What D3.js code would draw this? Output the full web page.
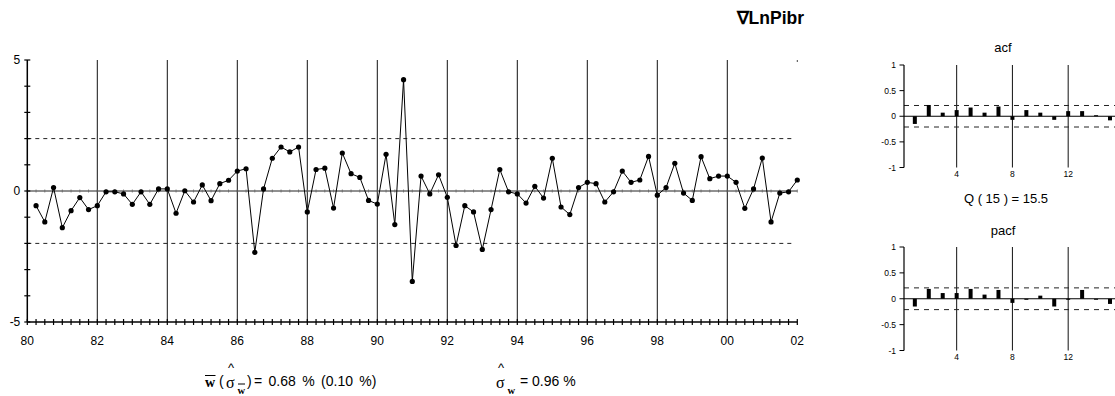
<!DOCTYPE html>
<meta charset="utf-8" />
<script src="https://d3js.org/d3.v7.min.js"></script>
<body style="margin:0;background:#fff">
  <div id="chart"></div>
  <script>
    // quarterly growth of LnPibr (%), first obs 1980Q2
    const firstQuarter = 80.25;
    const growth = [
      -0.56, -1.18, 0.13, -1.40, -0.75, -0.25, -0.71, -0.56,
      -0.03, -0.03, -0.11, -0.51, -0.03, -0.51, 0.08, 0.08,
      -0.85, 0.01, -0.42, 0.23, -0.37, 0.28, 0.41, 0.76,
      0.85, -2.34, 0.08, 1.25, 1.68, 1.49, 1.68, -0.80,
      0.82, 0.87, -0.65, 1.45, 0.66, 0.52, -0.36, -0.50,
      1.40, -1.28, 4.25, -3.45, 0.57, -0.11, 0.62, -0.24,
      -2.08, -0.56, -0.80, -2.23, -0.71, 0.82, -0.03, -0.11,
      -0.46, 0.18, -0.27, 1.25, -0.61, -0.90, 0.13, 0.33,
      0.28, -0.42, -0.03, 0.76, 0.33, 0.42, 1.32, -0.16,
      0.13, 1.06, -0.08, -0.36, 1.31, 0.47, 0.57, 0.57,
      0.33, -0.66, 0.08, 1.26, -1.18, -0.08, -0.03, 0.42
    ];
    const yearTicks = [80, 82, 84, 86, 88, 90, 92, 94, 96, 98, 100, 102];
    const yearLabels = ["80", "82", "84", "86", "88", "90", "92", "94", "96", "98", "00", "02"];
    const yLabels = [5, 0, -5];
    const band = 2; // dashed lines at +/- 2

    const lags = d3.range(1, 16);
    const acf = [-0.15, 0.22, 0.07, 0.12, 0.17, 0.07, 0.19, -0.07, 0.12, 0.07, -0.07, 0.10, 0.10, 0.02, -0.08];
    const pacf = [-0.15, 0.19, 0.11, 0.11, 0.19, 0.08, 0.17, -0.08, -0.02, 0.06, -0.15, 0.0, 0.17, 0.0, -0.10];
    const corrTicks = [1, 0.5, 0, -0.5, -1];
    const corrTickLabels = ["1", "0.5", "0", "-0.5", "-1"];
    const lagGrid = [4, 8, 12];
    const corrBand = 0.21;

    const font = "'Liberation Sans', Arial, sans-serif";
    const serif = "'Liberation Serif', 'Times New Roman', serif";

    const svg = d3.select("#chart").append("svg")
      .attr("width", 1115).attr("height", 396)
      .style("font-family", font);

    // ---- main panel ----
    const x = d3.scaleLinear().domain([80, 102]).range([27.3, 797.3]);
    const y = d3.scaleLinear().domain([-5, 5]).range([322, 60]);
    const data = growth.map((v, i) => ({ t: firstQuarter + i * 0.25, v: v }));
    const quarters = d3.range(80, 102.001, 0.25);

    const main = svg.append("g");

    // vertical grid at even years
    main.selectAll(".vgrid").data(yearTicks.slice(1, -1)).enter().append("line")
      .attr("x1", d => x(d)).attr("x2", d => x(d))
      .attr("y1", y(5)).attr("y2", y(-5))
      .attr("stroke", "#111").attr("stroke-width", 1);
    main.append("line")
      .attr("x1", x(102)).attr("x2", x(102)).attr("y1", y(5)).attr("y2", y(5) + 2)
      .attr("stroke", "#444");

    // dashed +/- band
    main.selectAll(".band").data([band, -band]).enter().append("line")
      .attr("x1", x(80)).attr("x2", x(101.9))
      .attr("y1", d => y(d)).attr("y2", d => y(d))
      .attr("stroke", "#222").attr("stroke-dasharray", "4,4");

    // zero line with small quarterly ticks
    main.append("line")
      .attr("x1", x(80)).attr("x2", x(102)).attr("y1", y(0)).attr("y2", y(0))
      .attr("stroke", "#222").attr("stroke-width", 1);
    main.selectAll(".zt").data(quarters).enter().append("line")
      .attr("x1", d => x(d)).attr("x2", d => x(d))
      .attr("y1", y(0) - 1.5).attr("y2", y(0) + 1.5)
      .attr("stroke", "#666").attr("stroke-width", 0.8);

    // y axis
    main.append("line")
      .attr("x1", x(80)).attr("x2", x(80)).attr("y1", y(5)).attr("y2", y(-5))
      .attr("stroke", "#000").attr("stroke-width", 1.5);
    main.selectAll(".yt").data(d3.range(-5, 6)).enter().append("line")
      .attr("x1", x(80) - 3).attr("x2", x(80) + 3)
      .attr("y1", d => y(d)).attr("y2", d => y(d))
      .attr("stroke", "#000").attr("stroke-width", 1.2);
    main.selectAll(".yl").data(yLabels).enter().append("text")
      .attr("x", x(80) - 7).attr("y", d => y(d) + 4)
      .attr("text-anchor", "end").attr("font-size", 12)
      .text(d => d);

    // x axis
    main.append("line")
      .attr("x1", x(80)).attr("x2", x(102)).attr("y1", y(-5)).attr("y2", y(-5))
      .attr("stroke", "#000").attr("stroke-width", 1.5);
    main.selectAll(".xt").data(quarters).enter().append("line")
      .attr("x1", d => x(d)).attr("x2", d => x(d))
      .attr("y1", y(-5) - 3).attr("y2", y(-5) + 3)
      .attr("stroke", "#000").attr("stroke-width", 1.2);
    main.selectAll(".xl").data(yearTicks).enter().append("text")
      .attr("x", d => x(d)).attr("y", 345)
      .attr("text-anchor", "middle").attr("font-size", 12)
      .text((d, i) => yearLabels[i]);

    // series
    main.append("path").datum(data)
      .attr("fill", "none").attr("stroke", "#000").attr("stroke-width", 1)
      .attr("d", d3.line().x(d => x(d.t)).y(d => y(d.v)));
    main.selectAll(".pt").data(data).enter().append("circle")
      .attr("cx", d => x(d.t)).attr("cy", d => y(d.v)).attr("r", 2.6)
      .attr("fill", "#000");

    // title
    svg.append("text")
      .attr("x", 804).attr("y", 24).attr("text-anchor", "end")
      .attr("font-size", 17.5).attr("font-weight", "bold")
      .text("\u2207LnPibr");

    // ---- correlogram panels ----
    const lx = d3.scaleLinear().domain([0, 15]).range([900.9, 1110]);
    const axisX = 904;

    function correlogram(values, top, bottom, title, titleY, labelY) {
      const cy = d3.scaleLinear().domain([-1, 1]).range([bottom, top]);
      const g = svg.append("g");
      g.append("text").attr("x", 1003).attr("y", titleY)
        .attr("text-anchor", "middle").attr("font-size", 13).text(title);
      g.selectAll(".lg").data(lagGrid).enter().append("line")
        .attr("x1", d => lx(d)).attr("x2", d => lx(d))
        .attr("y1", cy(1)).attr("y2", cy(-1))
        .attr("stroke", "#111");
      g.selectAll(".cb").data([corrBand, -corrBand]).enter().append("line")
        .attr("x1", axisX).attr("x2", 1115)
        .attr("y1", d => cy(d)).attr("y2", d => cy(d))
        .attr("stroke", "#222").attr("stroke-dasharray", "5,5");
      g.append("line").attr("x1", axisX).attr("x2", 1115)
        .attr("y1", cy(0)).attr("y2", cy(0))
        .attr("stroke", "#000").attr("stroke-width", 1.2);
      g.append("line").attr("x1", axisX).attr("x2", axisX)
        .attr("y1", cy(1)).attr("y2", cy(-1))
        .attr("stroke", "#000").attr("stroke-width", 1.2);
      g.selectAll(".ct").data(corrTicks).enter().append("line")
        .attr("x1", axisX - 4.5).attr("x2", axisX)
        .attr("y1", d => cy(d)).attr("y2", d => cy(d))
        .attr("stroke", "#000");
      g.selectAll(".cl").data(corrTicks).enter().append("text")
        .attr("x", axisX - 8).attr("y", d => cy(d) + 3)
        .attr("text-anchor", "end").attr("font-size", 8.5)
        .text((d, i) => corrTickLabels[i]);
      g.selectAll(".ll").data(lagGrid).enter().append("text")
        .attr("x", d => lx(d)).attr("y", labelY)
        .attr("text-anchor", "middle").attr("font-size", 8.5)
        .text(d => d);
      g.selectAll(".bar").data(values).enter().append("rect")
        .attr("x", (d, i) => lx(lags[i]) - 2)
        .attr("width", 4)
        .attr("y", d => cy(Math.max(0, d)))
        .attr("height", d => Math.max(1, Math.abs(cy(d) - cy(0))))
        .attr("fill", "#000");
    }

    correlogram(acf, 65, 167.5, "acf", 52, 177);
    svg.append("text").attr("x", 1006).attr("y", 203)
      .attr("text-anchor", "middle").attr("font-size", 13)
      .text("Q ( 15 ) = 15.5");
    correlogram(pacf, 247, 350.5, "pacf", 235, 360);

    // ---- summary statistics ----
    const stats = svg.append("g");
    // mean of w with its standard error
    stats.append("text").attr("x", 205).attr("y", 387)
      .attr("font-family", serif).attr("font-weight", "bold").attr("font-size", 14).text("w");
    stats.append("line").attr("x1", 205).attr("x2", 215.5).attr("y1", 375.5).attr("y2", 375.5)
      .attr("stroke", "#000").attr("stroke-width", 1);
    stats.append("text").attr("x", 219).attr("y", 386).attr("font-size", 14).text("(");
    stats.append("text").attr("x", 228).attr("y", 372).attr("font-size", 13).text("^");
    stats.append("text").attr("x", 226).attr("y", 388)
      .attr("font-family", serif).attr("font-size", 16).text("\u03C3");
    stats.append("text").attr("x", 237.5).attr("y", 393.5)
      .attr("font-family", serif).attr("font-weight", "bold").attr("font-size", 10.5).text("w");
    stats.append("line").attr("x1", 238).attr("x2", 245).attr("y1", 384).attr("y2", 384)
      .attr("stroke", "#000").attr("stroke-width", 1);
    stats.append("text").attr("x", 247).attr("y", 386).attr("font-size", 14).text(")");
    stats.append("text").attr("x", 254).attr("y", 386).attr("font-size", 14)
      .attr("word-spacing", 2.5)
      .text("= 0.68 % (0.10 %)");

    // standard deviation of w
    stats.append("text").attr("x", 498).attr("y", 372).attr("font-size", 13).text("^");
    stats.append("text").attr("x", 496).attr("y", 388)
      .attr("font-family", serif).attr("font-size", 16).text("\u03C3");
    stats.append("text").attr("x", 507.5).attr("y", 393.5)
      .attr("font-family", serif).attr("font-weight", "bold").attr("font-size", 10.5).text("w");
    stats.append("text").attr("x", 520).attr("y", 386).attr("font-size", 14)
      .text("= 0.96 %");
  </script>
</body>
